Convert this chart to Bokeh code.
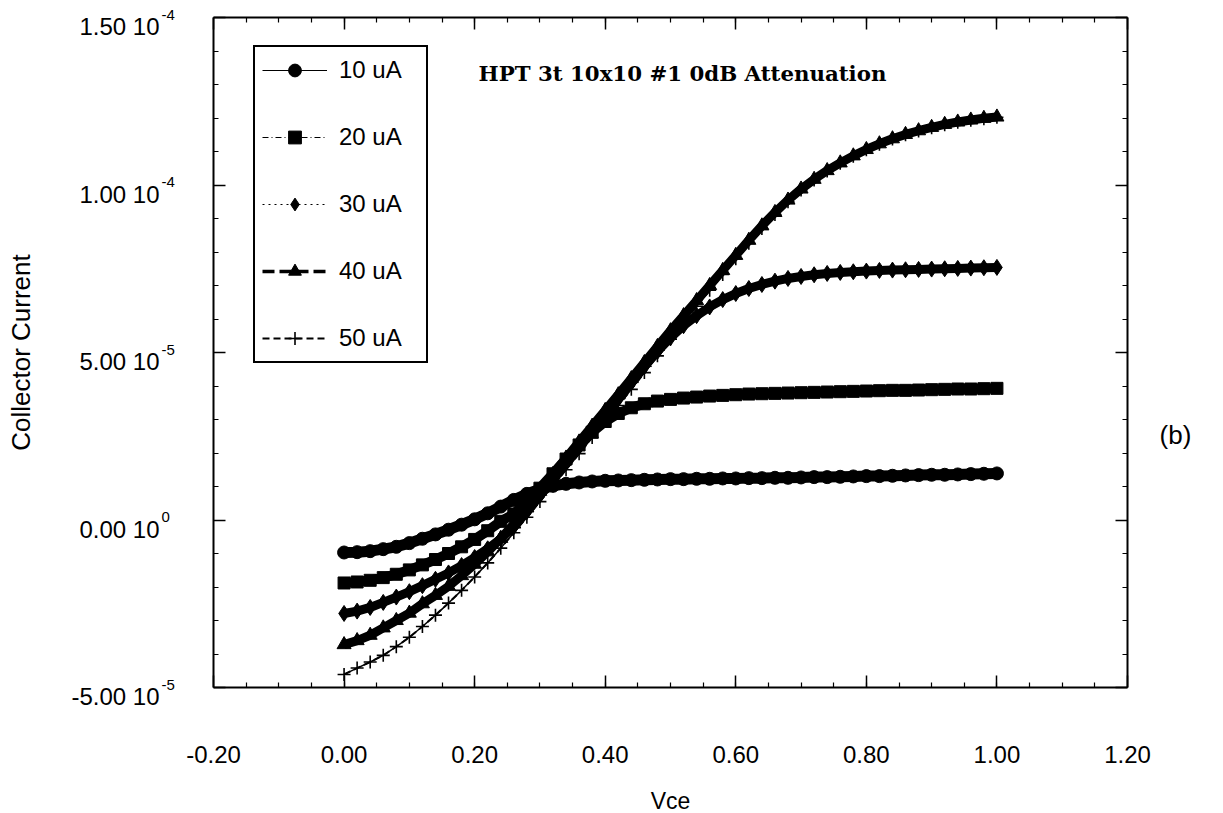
from math import pi
from bokeh.plotting import figure
from bokeh.models import (Range1d, LinearAxis, FixedTicker, Label, Legend, LegendItem,
                          CustomJSTickFormatter, NumeralTickFormatter)
from bokeh.embed import file_html
from bokeh.resources import INLINE

# ---------------- data (collector current in units of 1e-5 A) ----------------
vce = [0.00, 0.02, 0.04, 0.06, 0.08, 0.10, 0.12, 0.14, 0.16, 0.18,
       0.20, 0.22, 0.24, 0.26, 0.28, 0.30, 0.32, 0.34, 0.36, 0.38,
       0.40, 0.42, 0.44, 0.46, 0.48, 0.50, 0.52, 0.54, 0.56, 0.58,
       0.60, 0.62, 0.64, 0.66, 0.68, 0.70, 0.72, 0.74, 0.76, 0.78,
       0.80, 0.82, 0.84, 0.86, 0.88, 0.90, 0.92, 0.94, 0.96, 0.98, 1.00]

i10 = [-0.97, -0.96, -0.93, -0.87, -0.80, -0.69, -0.56, -0.43, -0.29, -0.14,
       0.02, 0.20, 0.40, 0.60, 0.78, 0.92, 1.02, 1.08, 1.12, 1.15,
       1.17, 1.18, 1.19, 1.20, 1.21, 1.22, 1.22, 1.23, 1.23, 1.24,
       1.24, 1.25, 1.25, 1.26, 1.26, 1.27, 1.28, 1.28, 1.29, 1.30,
       1.31, 1.31, 1.32, 1.33, 1.34, 1.35, 1.35, 1.36, 1.37, 1.38, 1.39]

i20 = [-1.88, -1.85, -1.80, -1.72, -1.62, -1.49, -1.34, -1.18, -1.00, -0.80,
       -0.58, -0.32, -0.04, 0.18, 0.55, 0.95, 1.38, 1.82, 2.24, 2.62,
       2.94, 3.18, 3.35, 3.47, 3.55, 3.60, 3.64, 3.67, 3.70, 3.72,
       3.74, 3.76, 3.77, 3.78, 3.79, 3.80, 3.81, 3.82, 3.83, 3.84,
       3.85, 3.86, 3.87, 3.87, 3.88, 3.89, 3.90, 3.91, 3.91, 3.92, 3.93]

i30 = [-2.79, -2.72, -2.61, -2.46, -2.30, -2.14, -1.96, -1.77, -1.58, -1.36,
       -1.12, -0.86, -0.56, -0.20, 0.25, 0.74, 1.22, 1.70, 2.18, 2.66,
       3.14, 3.62, 4.10, 4.58, 5.03, 5.44, 5.80, 6.10, 6.36, 6.58,
       6.76, 6.91, 7.03, 7.13, 7.21, 7.27, 7.32, 7.36, 7.39, 7.41,
       7.43, 7.45, 7.46, 7.47, 7.48, 7.49, 7.50, 7.51, 7.52, 7.53, 7.54]

i40 = [-3.72, -3.60, -3.44, -3.22, -3.00, -2.78, -2.50, -2.25, -1.98, -1.66,
       -1.32, -0.95, -0.55, -0.12, 0.36, 0.86, 1.36, 1.85, 2.33, 2.80,
       3.27, 3.74, 4.22, 4.70, 5.18, 5.65, 6.10, 6.55, 7.00, 7.45,
       7.90, 8.35, 8.78, 9.18, 9.55, 9.88, 10.17, 10.43, 10.66, 10.87,
       11.06, 11.23, 11.38, 11.51, 11.62, 11.72, 11.81, 11.88, 11.94, 11.99, 12.03]

i50 = [-4.61, -4.42, -4.24, -4.04, -3.78, -3.50, -3.18, -2.84, -2.48, -2.10,
       -1.70, -1.28, -0.84, -0.38, 0.08, 0.55, 1.02, 1.50, 1.98, 2.46,
       2.94, 3.42, 3.90, 4.40, 4.90, 5.40, 5.90, 6.38, 6.86, 7.33,
       7.80, 8.26, 8.70, 9.12, 9.50, 9.85, 10.15, 10.42, 10.65, 10.86,
       11.05, 11.22, 11.37, 11.50, 11.61, 11.71, 11.80, 11.87, 11.93, 11.98, 12.02]

series_labels = ["10 uA", "20 uA", "30 uA", "40 uA", "50 uA"]
series_values = [i10, i20, i30, i40, i50]
unit = 1e-5

x_ticks = [-0.2, 0.0, 0.2, 0.4, 0.6, 0.8, 1.0, 1.2]
y_ticks = [-5e-5, 0.0, 5e-5, 1e-4, 1.5e-4]
y_tick_mant = ["-5.00 10", "0.00 10", "5.00 10", "1.00 10", "1.50 10"]
y_tick_exp = ["-5", "0", "-5", "-4", "-4"]

title_text = "HPT 3t 10x10 #1 0dB Attenuation"

# ---------------- layout / styles ----------------
W, H = 1223, 813
FL, FR, FT, FB = 213, 1127, 17, 687          # pixel box of the axes
X0, X1 = x_ticks[0], x_ticks[-1]
Y0, Y1 = y_ticks[0], y_ticks[-1]
kx = (FR - FL) / (X1 - X0)
ky = (FB - FT) / (Y1 - Y0)
x_range = Range1d(X0 - FL / kx, X1 + (W - FR) / kx)
y_range = Range1d(Y0 - (H - FB) / ky, Y1 + FT / ky)

markers = ["circle", "square", "diamond", "triangle", "cross"]
marker_sizes = [13, 12, 16, 14, 13]
line_dashes = ["solid", "6 3 1 3", "2 4", "12 5", "7 4"]
line_widths = [1, 1, 1, 3.5, 2]
under_widths = [11, 10, 9, 9, 1.5]

FONT = "Liberation Sans"

p = figure(width=W, height=H, x_range=x_range, y_range=y_range,
           output_backend="svg", toolbar_location=None,
           x_axis_type=None, y_axis_type=None,
           min_border=0)
p.outline_line_color = None
p.background_fill_color = "white"
p.border_fill_color = "white"

x_minor = [X0 + 0.05 * i for i in range(1, 28)]
y_minor = [Y0 + 1e-5 * i for i in range(1, 20)]

empty = CustomJSTickFormatter(code="return ''")


def make_axis(ticks, minor, bounds, loc, formatter):
    ax = LinearAxis(ticker=FixedTicker(ticks=ticks, minor_ticks=minor), formatter=formatter,
                    bounds=bounds, fixed_location=loc)
    ax.axis_line_color = "black"
    ax.axis_line_width = 2
    ax.major_tick_in = 12
    ax.major_tick_out = 0
    ax.minor_tick_in = 5
    ax.minor_tick_out = 0
    ax.major_tick_line_width = 1.5
    ax.minor_tick_line_width = 1.2
    ax.major_tick_line_color = "black"
    ax.minor_tick_line_color = "black"
    return ax


xb = make_axis(x_ticks, x_minor, (X0, X1), Y0, NumeralTickFormatter(format="0.00"))
xb.major_label_text_font = FONT
xb.major_label_text_font_size = "24px"
xb.major_label_text_color = "black"
xb.major_label_standoff = 58
p.add_layout(xb, "below")

xt = make_axis(x_ticks, x_minor, (X0, X1), Y1, empty)
p.add_layout(xt, "above")

yl = make_axis(y_ticks, y_minor, (Y0, Y1), X0, empty)
p.add_layout(yl, "left")

yr = make_axis(y_ticks, y_minor, (Y0, Y1), X1, empty)
p.add_layout(yr, "right")

# ---------------- series ----------------
renderers = {}
for k in [4, 3, 2, 1, 0]:
    ys = [v * unit for v in series_values[k]]
    p.line(vce, ys, line_color="black", line_width=under_widths[k])
    lr = p.line(vce, ys, line_color="black", line_width=line_widths[k], line_dash=line_dashes[k])
    if markers[k] == "cross":
        sr = p.scatter(vce, ys, marker="cross", size=marker_sizes[k], line_color="black", line_width=1.6)
    else:
        sr = p.scatter(vce, ys, marker=markers[k], size=marker_sizes[k], fill_color="black",
                       line_color="black")
    renderers[k] = [lr, sr]

items = [LegendItem(label=series_labels[k], renderers=renderers[k]) for k in range(5)]
legend = Legend(items=items, location=(253, H - 363), orientation="vertical",
                border_line_color="black", border_line_width=2.5, border_line_alpha=1.0,
                background_fill_color="white", background_fill_alpha=1,
                padding=7, spacing=35, margin=0,
                glyph_width=65, glyph_height=32, label_height=32, label_width=80,
                label_standoff=12, label_text_font=FONT, label_text_font_size="24px",
                label_text_color="black")
p.add_layout(legend, "center")

# ---------------- texts ----------------
for v, m, e in zip(y_ticks, y_tick_mant, y_tick_exp):
    p.add_layout(Label(x=X0, y=v, text=m, x_offset=-54, y_offset=-9, text_align="right",
                       text_baseline="middle", text_font=FONT, text_font_size="24px",
                       text_color="black"))
    p.add_layout(Label(x=X0, y=v, text=e, x_offset=-52, y_offset=3, text_align="left",
                       text_baseline="middle", text_font=FONT, text_font_size="15px",
                       text_color="black"))

p.add_layout(Label(x=X0, y=(Y0 + Y1) / 2, text="Collector Current", x_offset=-193, angle=pi / 2,
                   text_align="center", text_baseline="middle", text_font=FONT,
                   text_font_size="26px", text_color="black"))
p.add_layout(Label(x=(X0 + X1) / 2, y=Y0, text="Vce", y_offset=-113, text_align="center",
                   text_baseline="middle", text_font=FONT, text_font_size="23px",
                   text_color="black"))
p.add_layout(Label(x=X1, y=2.55e-5, text="(b)", x_offset=48, text_align="center",
                   text_baseline="middle", text_font=FONT, text_font_size="26px",
                   text_color="black"))
p.add_layout(Label(x=0.206, y=1.333e-4, text=title_text, text_align="left",
                   text_baseline="middle", text_font="DejaVu Serif", text_font_style="bold",
                   text_font_size="21.3px", text_color="black"))

open("out.html", "w").write(file_html(p, INLINE))
